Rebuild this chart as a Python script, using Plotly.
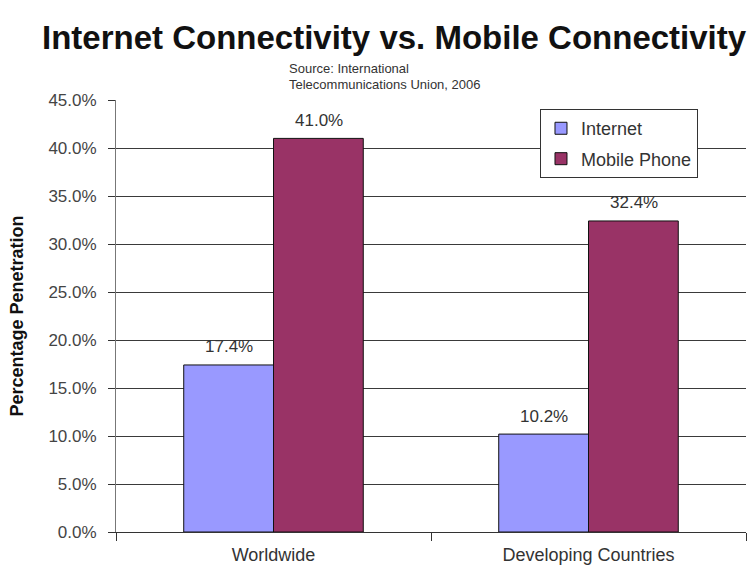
import plotly.graph_objects as go

categories = ["Worldwide", "Developing Countries"]
internet = [17.4, 10.2]
mobile = [41.0, 32.4]
series_names = ["Internet", "Mobile Phone"]
series_colors = ["#9999FF", "#993366"]
y_ticks = [0, 5, 10, 15, 20, 25, 30, 35, 40, 45]
y_tick_labels = [f"{v:.1f}%" for v in y_ticks]
title_text = "Internet Connectivity vs. Mobile Connectivity"
source_lines = ["Source: International", "Telecommunications Union, 2006"]

FONT = "Liberation Sans, Arial, sans-serif"

fig = go.Figure()
for i, (name, vals, col) in enumerate(zip(series_names, [internet, mobile], series_colors)):
    fig.add_trace(go.Bar(
        x=categories, y=vals, name=name, legendgroup=f"g{i}",
        marker=dict(color=col, line=dict(color="#111111", width=1)),
    ))

# data labels above bars
bar_half = 45
for i, vals in enumerate([internet, mobile]):
    shift = -bar_half if i == 0 else bar_half
    for c, v in zip(categories, vals):
        fig.add_annotation(x=c, y=v, xref="x", yref="y", text=f"{v:.1f}%",
                           showarrow=False, xshift=shift, yshift=18, yanchor="middle",
                           font=dict(family=FONT, size=17, color="#333333"))

for k, line in enumerate(source_lines):
    fig.add_annotation(x=0.271, y=[1.074, 1.035][k], xref="paper", yref="paper",
                       xanchor="left", yanchor="middle", showarrow=False, text=line,
                       font=dict(family=FONT, size=13, color="#333333"))

fig.update_layout(
    width=747, height=571,
    margin=dict(l=116, r=1, t=100, b=39),
    paper_bgcolor="white", plot_bgcolor="white",
    bargap=0.43, bargroupgap=0,
    barmode="group",
    title=dict(text=f"<b>{title_text}</b>", x=42/747, xref="container", xanchor="left",
               y=1-37/571, yref="container", yanchor="middle",
               font=dict(family=FONT, size=33, color="#111111")),
    legend=dict(x=0.673, y=0.979, xanchor="left", yanchor="top",
                bgcolor="white", bordercolor="#333333", borderwidth=1,
                font=dict(family=FONT, size=18, color="#333333"),
                tracegroupgap=4, itemclick=False),
    showlegend=True,
    xaxis=dict(showline=True, linecolor="#333333", linewidth=1,
               ticks="outside", tickson="boundaries", ticklen=8, tickcolor="#333333",
               tickfont=dict(family=FONT, size=18, color="#333333"),
               ticklabelstandoff=6, showgrid=False),
    yaxis=dict(range=[0, 45], tickvals=y_ticks, ticktext=y_tick_labels,
               showline=True, linecolor="#777777", linewidth=1,
               ticks="outside", ticklen=7, tickcolor="#333333",
               tickfont=dict(family=FONT, size=17, color="#444444"),
               ticklabelstandoff=8,
               showgrid=True, gridcolor="#3a3a3a", gridwidth=1, zeroline=False,
               title=dict(text="<b>Percentage Penetration</b>", standoff=20,
                          font=dict(family=FONT, size=18, color="#111111"))),
)

fig.write_html("out.html")
